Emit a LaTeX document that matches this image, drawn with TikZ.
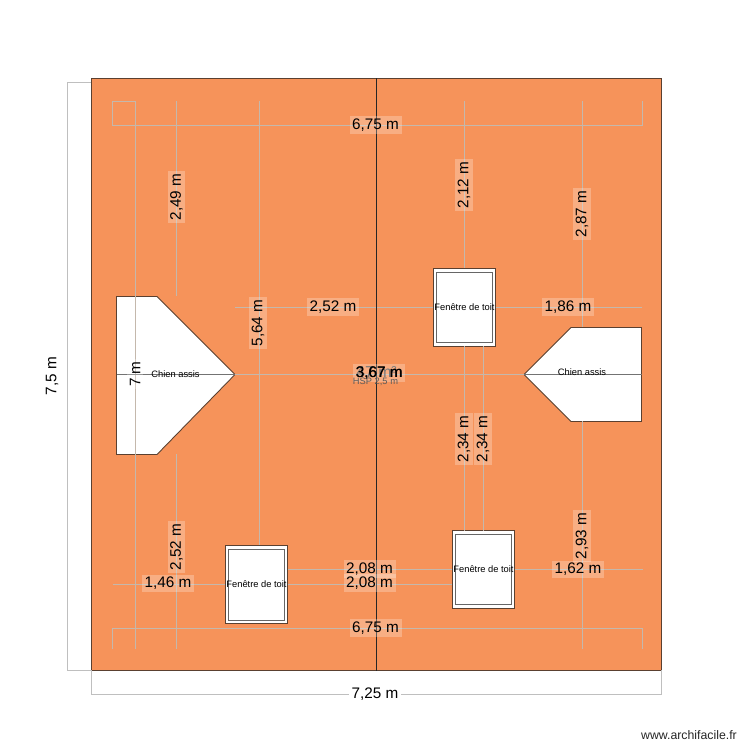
\documentclass[tikz,border=0pt]{standalone}
\usepackage{fontspec}
\setmainfont{Liberation Sans}
\usepackage{tikz}
\usetikzlibrary{calc}

\definecolor{roofcol}{HTML}{F6935A}
\definecolor{edgecol}{HTML}{5A4030}
\definecolor{dimcol}{HTML}{C4B8AC}

\tikzset{
  dimline/.style={draw=dimcol, line width=0.5pt},
  outerline/.style={draw=black!25, line width=0.5pt},
  dimlabel/.style={fill=white, fill opacity=0.25, text opacity=1, inner sep=1.5pt, font=\fontsize{8.7pt}{9pt}\selectfont},
  outerlabel/.style={fill=white, inner sep=1.5pt, font=\fontsize{8.7pt}{9pt}\selectfont},
  skylight/.style={draw=edgecol, fill=white, line width=0.5pt,
    minimum width=1.25cm, minimum height=1.56cm, inner sep=0pt},
  skyframe/.style={draw=black!60, line width=0.5pt},
  dormer/.style={draw=edgecol, fill=white, line width=0.5pt},
  smalltext/.style={inner sep=0pt, font=\fontsize{5.3pt}{6pt}\selectfont}
}

\begin{document}
\begin{tikzpicture}[x=0.02cm, y=-0.02cm]
    \useasboundingbox (0,0) rectangle (750,750);

    % roof slopes
    \draw[draw=edgecol, fill=roofcol, line width=0.5pt] (91.5,78.5) rectangle (376.5,670.5);
    \draw[draw=edgecol, fill=roofcol, line width=0.5pt] (376.5,78.5) rectangle (661.5,670.5);

    % dormers and windows
    \draw[dormer] (116.5,296.5) -- (157,296.5) -- (235,374.5) -- (157,454.5) -- (116.5,454.5) -- cycle;
    \draw[dormer] (641.5,327.5) -- (571,327.5) -- (524,374.5) -- (571,421.5) -- (641.5,421.5) -- cycle;
    \node[skylight] (w1) at (464.5,307.5) {};
    \node[skylight] (w2) at (483.5,569.5) {};
    \node[skylight] (w3) at (256.5,584.5) {};
    \foreach \w in {w1,w2,w3}
      \draw[skyframe] ($(\w.south west)+(4,-4)$) rectangle ($(\w.north east)+(-4,4)$);

    % outer dimensions
    \draw[outerline] (91,82.5) -- (67.5,82.5) -- (67.5,670.5) -- (91,670.5);
    \draw[outerline] (91.5,670) -- (91.5,694.5) -- (661.5,694.5) -- (661.5,670);

    % inner dimensions, horizontal
    \draw[dimline] (112.5,101.5) -- (112.5,125.5) -- (642.5,125.5);
    \draw[dimline] (112.5,648.5) -- (112.5,628.5) -- (642.5,628.5) -- (642.5,648.5);
    \draw[dimline] (112.5,101.5) -- (135.5,101.5);
    \draw[dimline] (235,307.5) -- (w1.west);
    \draw[dimline] (w1.east) -- (641.5,307.5);
    \draw[dimline] (235,374.5) -- (524,374.5);
    \draw[dimline] (288,569.5) -- (452,569.5);
    \draw[dimline] (w3.east) -- (452,584.5);
    \draw[dimline] (112.5,584.5) -- (w3.west);
    \draw[dimline] (w2.east) -- (642.5,569.5);

    % inner dimensions, vertical
    \draw[dimline] (135.5,101.5) -- (135.5,648.5);
    \draw[dimline] (176.5,101.5) -- (176.5,296);
    \draw[dimline] (176.5,454) -- (176.5,648.5);
    \draw[dimline] (259.5,101.5) -- (259.5,545);
    \draw[dimline] (464.5,101.5) -- (w1.north);
    \draw[dimline] (582.5,101.5) -- (582.5,327);
    \draw[dimline] (464.5,346) -- (464.5,531);
    \draw[dimline] (483.5,346) -- (483.5,531);
    \draw[dimline] (582.5,421) -- (582.5,648.5);
    \draw[dimline] (642.5,101.5) -- (642.5,125.5);

    % ridge
    \draw[draw=black!55, line width=0.5pt] (116.5,374.5) -- (235,374.5);
    \draw[draw=black!55, line width=0.5pt] (524,374.5) -- (641.5,374.5);
    \draw[draw=black!85, line width=0.5pt] (376.5,78.5) -- (376.5,670.5);

    % dimension labels
    \node[outerlabel, rotate=90] (l75) at (52,376) {7,5 m};
    \node[outerlabel] (l725) at (375,694) {7,25 m};
    \node[dimlabel] (t1) at (375.5,125) {6,75 m};
    \node[dimlabel] (t2) at (375.5,628) {6,75 m};
    \node[dimlabel, rotate=90] (v1) at (176.5,197) {2,49 m};
    \node[dimlabel, rotate=90] (v2) at (176.5,547) {2,52 m};
    \node[dimlabel, rotate=90] (v3) at (258,323) {5,64 m};
    \node[dimlabel, rotate=90] (v4) at (464,185) {2,12 m};
    \node[dimlabel, rotate=90] (v5) at (582,214) {2,87 m};
    \node[dimlabel, rotate=90] (v6) at (464,439) {2,34 m};
    \node[dimlabel, rotate=90] (v7) at (483,439) {2,34 m};
    \node[dimlabel, rotate=90] (v8) at (582,536) {2,93 m};
    \node[dimlabel, rotate=90] (v9) at (135,374) {7 m};
    \node[dimlabel] (h1) at (333,307) {2,52 m};
    \node[dimlabel] (h2) at (568,307) {1,86 m};
    \node[dimlabel] (h3) at (168,583.5) {1,46 m};
    \node[dimlabel] (h4) at (578,569.5) {1,62 m};
    \node[dimlabel] (h5) at (369.5,569) {2,08 m};
    \node[dimlabel] (h6) at (369.5,583) {2,08 m};

    % room area, two labels lie on top of it
    \node[inner sep=0pt, text=black!70, font=\fontsize{9pt}{10pt}\selectfont] (area) at (376.5,372) {47 m²};
    \node[dimlabel] (h7) at (379,373) {3,67 m};
    \node[dimlabel, fill opacity=0] (h8) at (379.6,373) {3,67 m};
    \node[inner sep=0pt, text=black!65, font=\fontsize{5.3pt}{6pt}\selectfont] (hsp) at (375.5,381.5) {HSP 2,5 m};

    % texts of the plan
    \node[smalltext] (n1) at (175.5,374) {Chien assis};
    \node[smalltext] (n2) at (582,372.5) {Chien assis};
    \node[smalltext] at (w1) {Fenêtre de toit};
    \node[smalltext] at (w2) {Fenêtre de toit};
    \node[smalltext] at (w3) {Fenêtre de toit};

    \node[inner sep=0pt, text=black!85, font=\fontsize{7pt}{8pt}\selectfont] (site) at (689,735) {www.archifacile.fr};
\end{tikzpicture}
\end{document}
